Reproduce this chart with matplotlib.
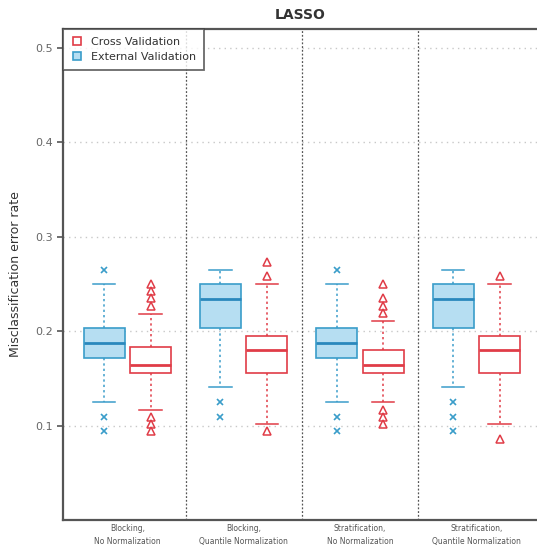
import matplotlib.pyplot as plt
from matplotlib.lines import Line2D

# groups shown on x axis
groups = ['Blocking,\nNo Normalization', 'Blocking,\nQuantile Normalization',
          'Stratification,\nNo Normalization', 'Stratification,\nQuantile Normalization']

# External validation (blue) box stats per group
ev_whislo = [0.125, 0.141, 0.125, 0.141]
ev_q1 = [0.172, 0.203, 0.172, 0.203]
ev_med = [0.187, 0.234, 0.187, 0.234]
ev_q3 = [0.203, 0.250, 0.203, 0.250]
ev_whishi = [0.250, 0.265, 0.250, 0.265]
ev_fliers = [[0.265, 0.109, 0.094], [0.125, 0.109],
             [0.265, 0.109, 0.094], [0.125, 0.109, 0.094]]

# Cross validation (red) box stats per group
cv_whislo = [0.117, 0.102, 0.125, 0.102]
cv_q1 = [0.156, 0.156, 0.156, 0.156]
cv_med = [0.164, 0.180, 0.164, 0.180]
cv_q3 = [0.183, 0.195, 0.180, 0.195]
cv_whishi = [0.218, 0.250, 0.211, 0.250]
cv_fliers = [[0.250, 0.243, 0.235, 0.227, 0.109, 0.102, 0.094],
             [0.273, 0.258, 0.094],
             [0.250, 0.235, 0.227, 0.219, 0.117, 0.109, 0.102],
             [0.258, 0.086]]

blue = '#3a9dca'
blue_fill = '#b6def2'
blue_med = '#2a88bd'
red = '#e03c47'

def make_stats(lo, q1, med, q3, hi, fl):
    return [dict(whislo=a, q1=b, med=c, q3=d, whishi=e, fliers=f)
            for a, b, c, d, e, f in zip(lo, q1, med, q3, hi, fl)]

fig = plt.figure(figsize=(5.37, 5.52), dpi=100)
ax = fig.add_axes([0.1173, 0.058, 0.885, 0.8895])

pos_blue = [1 + 2.5 * k for k in range(4)]
pos_red = [2 + 2.5 * k for k in range(4)]

ax.bxp(make_stats(ev_whislo, ev_q1, ev_med, ev_q3, ev_whishi, ev_fliers),
       positions=pos_blue, widths=0.88, capwidths=0.48, patch_artist=True,
       boxprops=dict(facecolor=blue_fill, edgecolor=blue, linewidth=1.2),
       medianprops=dict(color=blue_med, linewidth=2),
       whiskerprops=dict(color=blue, linestyle=(0, (1.5, 2)), linewidth=1.1),
       capprops=dict(color=blue, linewidth=1.1),
       flierprops=dict(marker='x', markeredgecolor=blue, markersize=5, markeredgewidth=1.2))

ax.bxp(make_stats(cv_whislo, cv_q1, cv_med, cv_q3, cv_whishi, cv_fliers),
       positions=pos_red, widths=0.88, capwidths=0.48, patch_artist=True,
       boxprops=dict(facecolor='white', edgecolor=red, linewidth=1.2),
       medianprops=dict(color=red, linewidth=2),
       whiskerprops=dict(color=red, linestyle=(0, (1.5, 2)), linewidth=1.1),
       capprops=dict(color=red, linewidth=1.1),
       flierprops=dict(marker='^', markerfacecolor='none', markeredgecolor=red,
                       markersize=6, markeredgewidth=1.1))

# grid and group separators
for y in [0.1, 0.2, 0.3, 0.4, 0.5]:
    ax.axhline(y, color='#c8c8c8', linestyle=(0, (1, 3)), linewidth=1, zorder=0)
for x in [2.75, 5.25, 7.75]:
    ax.axvline(x, color='#555555', linestyle=(0, (1.5, 1.5)), linewidth=0.9, zorder=0)

ax.set_xlim(0.116, 10.33)
ax.set_ylim(0, 0.52)
ax.set_yticks([0.1, 0.2, 0.3, 0.4, 0.5])
ax.set_yticklabels(['0.1', '0.2', '0.3', '0.4', '0.5'], color='#666666', fontsize=8)
ax.set_xticks([1.5 + 2.5 * k for k in range(4)])
ax.set_xticklabels(groups, fontsize=5.5, color='#555555', linespacing=1.5)
ax.tick_params(axis='x', length=0, pad=3)
ax.tick_params(axis='y', length=4, width=1.2, color='#555555', direction='out')

for s in ['left', 'top', 'bottom']:
    ax.spines[s].set_color('#555555')
    ax.spines[s].set_linewidth(1.6)
ax.spines['right'].set_visible(False)

ax.set_ylabel('Misclassification error rate', fontsize=9, color='#333333', labelpad=9)
ax.set_title('LASSO', fontsize=10, fontweight='bold', color='#333333', pad=7)

handles = [Line2D([], [], marker='s', linestyle='none', markerfacecolor='white',
                  markeredgecolor=red, markersize=6, markeredgewidth=1.2),
           Line2D([], [], marker='s', linestyle='none', markerfacecolor=blue_fill,
                  markeredgecolor=blue, markersize=6, markeredgewidth=1.2)]
leg = ax.legend(handles, ['Cross Validation', 'External Validation'], loc='upper left',
                fontsize=8, fancybox=False, borderaxespad=0, handletextpad=0.6,
                borderpad=0.7, labelspacing=0.45, handlelength=1.2)
leg.get_frame().set_edgecolor('#444444')
leg.get_frame().set_linewidth(1.3)
for t in leg.get_texts():
    t.set_color('#333333')

fig.savefig('out.png', dpi=100)
